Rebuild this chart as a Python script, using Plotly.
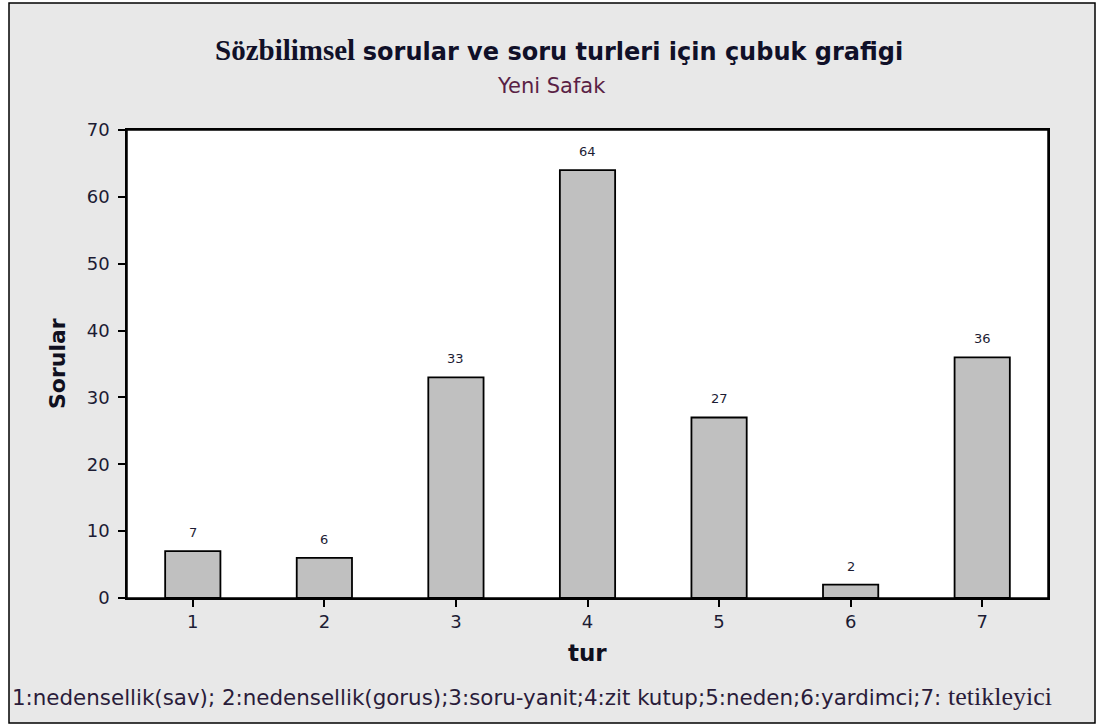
import plotly.graph_objects as go

# data
categories = [1, 2, 3, 4, 5, 6, 7]
counts = [7, 6, 33, 64, 27, 2, 36]
tick_labels = ["1", "2", "3", "4", "5", "6", "7"]

title_serif = "Sözbilimsel"
title_rest = "sorular ve soru turleri için çubuk grafigi"
subtitle = "Yeni Safak"
x_title = "tur"
y_title = "Sorular"
footer_main = "1:nedensellik(sav); 2:nedensellik(gorus);3:soru-yanit;4:zit kutup;5:neden;6:yardimci;7: "
footer_serif = "tetikleyici"

W, H = 1101, 728
L, R, T, B = 127, 53, 130, 130
PW, PH = W - L - R, H - T - B

SANS = "DejaVu Sans, sans-serif"
SERIF = "Liberation Serif, DejaVu Serif, serif"
TEXT = "#1c1c34"


def px_x(p):
    return (p - L) / PW


def px_y(p):
    return (H - B - p) / PH


fig = go.Figure()
fig.add_trace(go.Bar(
    x=categories, y=counts, width=0.42,
    marker=dict(color="#c0c0c0", line=dict(color="black", width=1.8)),
    hoverinfo="x+y",
))

# grey frame between the outer border and the plot area (evenodd ring)
ox0, ox1, oy0, oy1 = px_x(9), px_x(1095), px_y(3), px_y(723)
frame = (f"M{ox0},{oy0} L{ox1},{oy0} L{ox1},{oy1} L{ox0},{oy1} Z "
         f"M0,0 L1,0 L1,1 L0,1 Z")
fig.add_shape(type="path", path=frame, xref="paper", yref="paper",
              fillcolor="#e8e8e8", line=dict(color="black", width=1.5),
              layer="below")

annotations = []
for c, v in zip(categories, counts):
    annotations.append(dict(x=c, y=v, xref="x", yref="y", text=str(v),
                            showarrow=False, xanchor="center", yanchor="bottom",
                            yshift=9,
                            font=dict(family=SANS, size=13, color=TEXT)))

annotations += [
    dict(x=px_x(559), y=px_y(50), xref="paper", yref="paper", showarrow=False,
         xanchor="center", yanchor="middle",
         text=(f"<span style='font-family:{SERIF};font-size:29px'><b>{title_serif}</b></span> "
               f"<b>{title_rest}</b>"),
         font=dict(family=SANS, size=24, color="#101028")),
    dict(x=px_x(551), y=px_y(86), xref="paper", yref="paper", showarrow=False,
         xanchor="center", yanchor="middle",
         text=subtitle, font=dict(family=SANS, size=21, color="#5a1f45")),
    dict(x=px_x(57), y=0.5, xref="paper", yref="paper", showarrow=False,
         xanchor="center", yanchor="middle",
         text=f"<b>{y_title}</b>", textangle=-90,
         font=dict(family=SANS, size=22, color="#101020")),
    dict(x=px_x(587), y=px_y(653), xref="paper", yref="paper", showarrow=False,
         xanchor="center", yanchor="middle",
         text=f"<b>{x_title}</b>",
         font=dict(family=SANS, size=23, color="#101020")),
    dict(x=px_x(10), y=px_y(696), xref="paper", yref="paper", showarrow=False,
         xanchor="left", yanchor="middle",
         text=(f"{footer_main}<span style='font-family:{SERIF};font-size:26px'>"
               f"{footer_serif}</span>"),
         font=dict(family=SANS, size=21.4, color="#2a1c3a")),
]

axis_common = dict(showline=True, linecolor="black", linewidth=1.5, mirror=True,
                   ticks="outside", ticklen=7, tickwidth=1.5, tickcolor="black",
                   showgrid=False, zeroline=False,
                   tickfont=dict(family=SANS, size=18, color=TEXT))

fig.update_xaxes(range=[0.5, 7.5], tickvals=categories, ticktext=tick_labels,
                 ticklabelstandoff=0, **axis_common)
fig.update_yaxes(range=[0, 70], dtick=10, ticklabelstandoff=5, **axis_common)

fig.update_layout(
    width=W, height=H,
    margin=dict(l=L, r=R, t=T, b=B),
    paper_bgcolor="white", plot_bgcolor="white",
    showlegend=False,
    annotations=annotations,
)

fig.write_html("out.html", config={"displayModeBar": False},
               post_script="document.body.style.margin='0';")
